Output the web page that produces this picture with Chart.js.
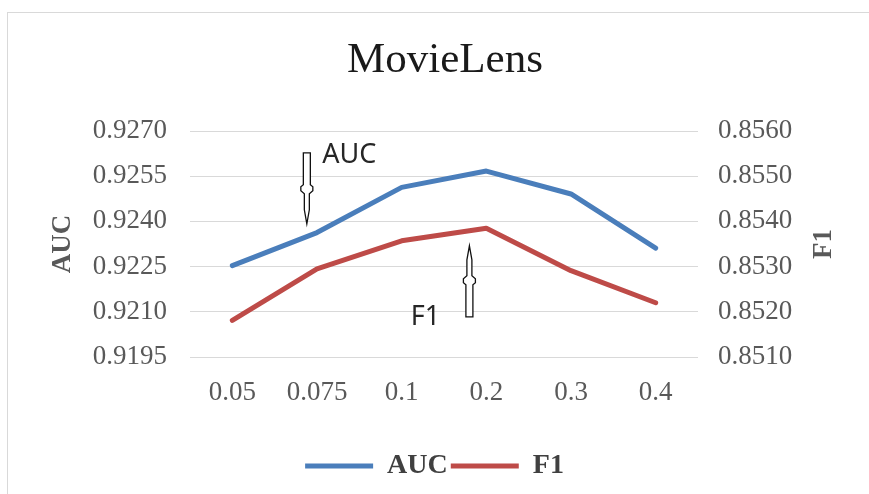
<!DOCTYPE html>
<html lang="en">
  <head>
    <meta charset="UTF-8" />
    <title>MovieLens</title>
    <style>
      body {
        margin: 0;
        background: #ffffff;
      }
      #wrap {
        position: relative;
        width: 869px;
        height: 494px;
        overflow: hidden;
      }
      #frame {
        position: absolute;
        left: 7px;
        top: 12px;
        width: 900px;
        height: 520px;
        border: 1px solid #d9d9d9;
      }
      #chart {
        position: absolute;
        left: 0;
        top: 0;
      }
    </style>
  </head>
  <body>
    <div id="wrap">
      <div id="frame"></div>
      <canvas id="chart" width="869" height="494"></canvas>
    </div>
    <script src="https://cdn.jsdelivr.net/npm/chart.js@4.4.0/dist/chart.umd.min.js"></script>
    <script>
      // data
      const categories = ['0.05', '0.075', '0.1', '0.2', '0.3', '0.4'];
      const aucValues = [0.92253, 0.92363, 0.92513, 0.92567, 0.92491, 0.92311];
      const f1Values = [0.85181, 0.85295, 0.85357, 0.85385, 0.85291, 0.8522];
      const aucTicks = [0.9195, 0.921, 0.9225, 0.924, 0.9255, 0.927];
      const f1Ticks = [0.851, 0.852, 0.853, 0.854, 0.855, 0.856];

      const serif = "'Liberation Serif', 'Times New Roman', serif";
      const tickColor = '#595959';

      // hollow arrow outline, tip at (0,0), pointing down (dir -1 flips it)
      const arrowShape = [
        [0, 0], [-2.5, -14], [-2.5, -30], [-6, -33], [-6, -37], [-3.5, -39],
        [-3.5, -71], [3.5, -71], [3.5, -39], [6, -37], [6, -33], [2.5, -30], [2.5, -14],
      ];

      function drawArrow(ctx, x, y, dir) {
        ctx.save();
        ctx.beginPath();
        arrowShape.forEach((p, i) => {
          const px = x + p[0];
          const py = y + p[1] * dir;
          if (i === 0) ctx.moveTo(px, py);
          else ctx.lineTo(px, py);
        });
        ctx.closePath();
        ctx.fillStyle = '#ffffff';
        ctx.fill();
        ctx.lineWidth = 1.3;
        ctx.strokeStyle = '#111111';
        ctx.stroke();
        ctx.restore();
      }

      const notes = {
        id: 'notes',
        afterDatasetsDraw(chart) {
          const ctx = chart.ctx;
          const x = chart.scales.x;
          const yl = chart.scales.y;
          const yr = chart.scales.y1;
          const midY = (chart.chartArea.top + chart.chartArea.bottom) / 2;

          // title sits a little right of the canvas centre, as in the original
          ctx.save();
          ctx.font = '43px ' + serif;
          ctx.fillStyle = '#1a1a1a';
          ctx.textAlign = 'center';
          ctx.textBaseline = 'middle';
          ctx.fillText('MovieLens', 445, 61);
          ctx.restore();

          // arrows: AUC pointing down, F1 pointing up
          drawArrow(ctx, x.getPixelForValue(0.88), yl.getPixelForValue(0.92392), 1);
          drawArrow(ctx, x.getPixelForValue(2.8), yr.getPixelForValue(0.85346), -1);

          ctx.save();
          ctx.font = "27px 'Noto Sans', sans-serif";
          ctx.fillStyle = '#262626';
          ctx.textAlign = 'center';
          ctx.textBaseline = 'middle';
          ctx.fillText('AUC', x.getPixelForValue(1.38), yl.getPixelForValue(0.92619));
          ctx.fillText('F1', x.getPixelForValue(2.28), yr.getPixelForValue(0.85188));

          // right axis title, rotated like the left one
          ctx.font = 'bold 27px ' + serif;
          ctx.fillStyle = tickColor;
          ctx.translate(824, midY);
          ctx.rotate(-Math.PI / 2);
          ctx.fillText('F1', 0, 0);
          ctx.restore();
        },
      };

      new Chart(document.getElementById('chart'), {
        type: 'line',
        data: {
          labels: categories,
          datasets: [
            {
              label: 'AUC',
              data: aucValues,
              yAxisID: 'y',
              borderColor: '#4a7ebb',
              backgroundColor: '#4a7ebb',
              borderWidth: 5,
              borderCapStyle: 'round',
              borderJoinStyle: 'round',
              pointRadius: 0,
              fill: false,
            },
            {
              label: 'F1',
              data: f1Values,
              yAxisID: 'y1',
              borderColor: '#be4b48',
              backgroundColor: '#be4b48',
              borderWidth: 5,
              borderCapStyle: 'round',
              borderJoinStyle: 'round',
              pointRadius: 0,
              fill: false,
            },
          ],
        },
        options: {
          responsive: false,
          animation: false,
          devicePixelRatio: 1,
          layout: { padding: { top: 131, bottom: 4, left: 0, right: 0 } },
          plugins: {
            title: { display: false },
            legend: {
              position: 'bottom',
              labels: {
                usePointStyle: true,
                pointStyle: 'line',
                pointStyleWidth: 68,
                padding: 3,
                color: '#404040',
                font: { family: serif, size: 28, weight: 'bold' },
              },
            },
            tooltip: { enabled: false },
          },
          scales: {
            x: {
              offset: true,
              grid: { display: false },
              border: { display: false },
              ticks: {
                color: tickColor,
                padding: 12,
                font: { family: serif, size: 27 },
                maxRotation: 0,
              },
              afterFit: (s) => {
                s.height = 92;
              },
            },
            y: {
              position: 'left',
              min: aucTicks[0],
              max: aucTicks[aucTicks.length - 1],
              afterBuildTicks: (s) => {
                s.ticks = aucTicks.map((v) => ({ value: v }));
              },
              grid: { color: '#d9d9d9', lineWidth: 1, drawTicks: false },
              border: { display: false },
              ticks: {
                color: tickColor,
                padding: 23,
                font: { family: serif, size: 27 },
                callback: (v) => Number(v).toFixed(4),
              },
              title: {
                display: true,
                text: 'AUC',
                color: tickColor,
                font: { family: serif, size: 27, weight: 'bold' },
                padding: { top: 47, bottom: 0 },
              },
              afterFit: (s) => {
                s.width = 190;
              },
            },
            y1: {
              position: 'right',
              min: f1Ticks[0],
              max: f1Ticks[f1Ticks.length - 1],
              afterBuildTicks: (s) => {
                s.ticks = f1Ticks.map((v) => ({ value: v }));
              },
              grid: { display: false, drawTicks: false },
              border: { display: false },
              ticks: {
                color: tickColor,
                padding: 20,
                font: { family: serif, size: 27 },
                callback: (v) => Number(v).toFixed(4),
              },
              afterFit: (s) => {
                s.width = 171;
              },
            },
          },
        },
        plugins: [notes],
      });
    </script>
  </body>
</html>
